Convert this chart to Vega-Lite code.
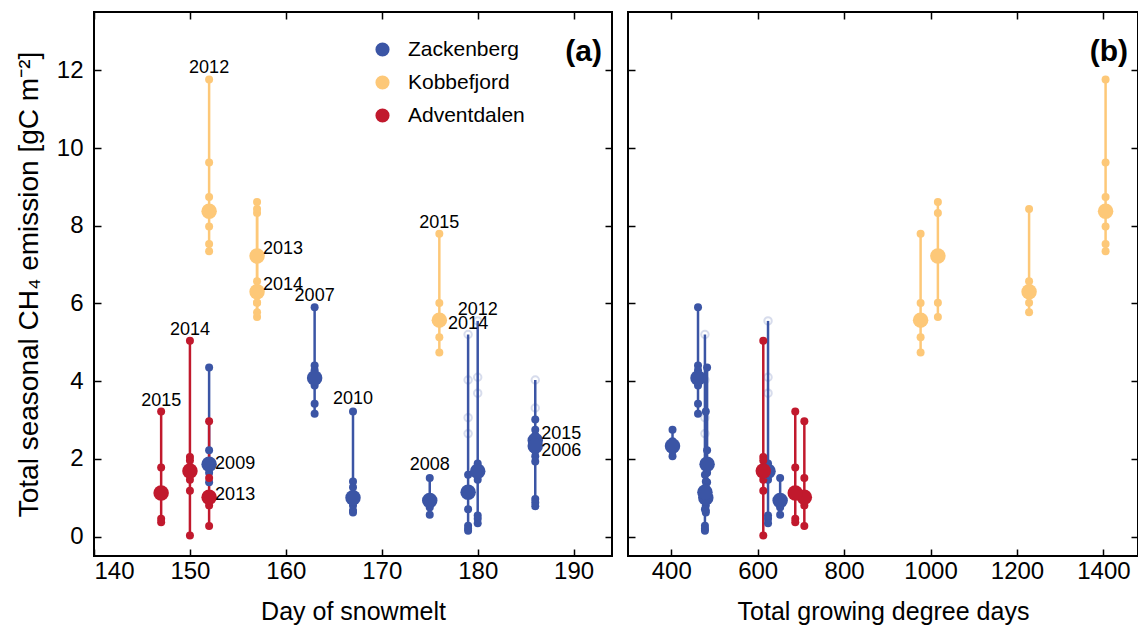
{
  "$schema": "https://vega.github.io/schema/vega-lite/v6.json",
  "padding": {"left": 14, "top": 10, "right": 0, "bottom": 0},
  "background": "white",
  "spacing": 12,
  "config": {
    "font": "Liberation Sans",
    "view": {"stroke": "black", "strokeWidth": 2},
    "axis": {"domain": false, "grid": false, "ticks": false, "tickColor": "black", "tickWidth": 1.5, "tickSize": -7, "labelFontSize": 24, "labelColor": "black", "titleFontSize": 25, "titleFontWeight": "normal", "titleColor": "black", "labelPadding": 3, "titlePadding": 16},
    "axisY": {"labelPadding": 11, "titleFontSize": 28, "titlePadding": 13},
    "legend": {"labelFontSize": 21, "labelColor": "black", "symbolSize": 200, "symbolType": "circle", "rowPadding": 11, "padding": 0, "labelOffset": 15, "symbolStrokeWidth": 0}
  },
  "datasets": {
    "pts": [
      {"site": "Zackenberg", "year": 2006, "day": 186, "gdd": null, "value": 4.03, "kind": "plot", "faint": true},
      {"site": "Zackenberg", "year": 2006, "day": 186, "gdd": null, "value": 3.31, "kind": "plot", "faint": true},
      {"site": "Zackenberg", "year": 2006, "day": 186, "gdd": null, "value": 3.01, "kind": "plot", "faint": false},
      {"site": "Zackenberg", "year": 2006, "day": 186, "gdd": null, "value": 2.6, "kind": "plot", "faint": false},
      {"site": "Zackenberg", "year": 2006, "day": 186, "gdd": null, "value": 1.93, "kind": "plot", "faint": false},
      {"site": "Zackenberg", "year": 2006, "day": 186, "gdd": null, "value": 0.97, "kind": "plot", "faint": false},
      {"site": "Zackenberg", "year": 2006, "day": 186, "gdd": null, "value": 0.88, "kind": "plot", "faint": false},
      {"site": "Zackenberg", "year": 2006, "day": 186, "gdd": null, "value": 0.78, "kind": "plot", "faint": false},
      {"site": "Zackenberg", "year": 2006, "day": 186, "gdd": null, "value": 2.47, "kind": "mean", "faint": false},
      {"site": "Zackenberg", "year": 2007, "day": 163, "gdd": 462, "value": 5.9, "kind": "plot", "faint": false},
      {"site": "Zackenberg", "year": 2007, "day": 163, "gdd": 462, "value": 4.4, "kind": "plot", "faint": false},
      {"site": "Zackenberg", "year": 2007, "day": 163, "gdd": 462, "value": 4.28, "kind": "plot", "faint": false},
      {"site": "Zackenberg", "year": 2007, "day": 163, "gdd": 462, "value": 3.89, "kind": "plot", "faint": false},
      {"site": "Zackenberg", "year": 2007, "day": 163, "gdd": 462, "value": 3.42, "kind": "plot", "faint": false},
      {"site": "Zackenberg", "year": 2007, "day": 163, "gdd": 462, "value": 3.16, "kind": "plot", "faint": false},
      {"site": "Zackenberg", "year": 2007, "day": 163, "gdd": 462, "value": 4.08, "kind": "mean", "faint": false},
      {"site": "Zackenberg", "year": 2008, "day": 175, "gdd": 652, "value": 1.51, "kind": "plot", "faint": false},
      {"site": "Zackenberg", "year": 2008, "day": 175, "gdd": 652, "value": 1.01, "kind": "plot", "faint": false},
      {"site": "Zackenberg", "year": 2008, "day": 175, "gdd": 652, "value": 0.75, "kind": "plot", "faint": false},
      {"site": "Zackenberg", "year": 2008, "day": 175, "gdd": 652, "value": 0.56, "kind": "plot", "faint": false},
      {"site": "Zackenberg", "year": 2008, "day": 175, "gdd": 652, "value": 0.93, "kind": "mean", "faint": false},
      {"site": "Zackenberg", "year": 2009, "day": 152, "gdd": 483, "value": 4.35, "kind": "plot", "faint": false},
      {"site": "Zackenberg", "year": 2009, "day": 152, "gdd": 483, "value": 2.22, "kind": "plot", "faint": false},
      {"site": "Zackenberg", "year": 2009, "day": 152, "gdd": 483, "value": 1.64, "kind": "plot", "faint": false},
      {"site": "Zackenberg", "year": 2009, "day": 152, "gdd": 483, "value": 1.4, "kind": "plot", "faint": false},
      {"site": "Zackenberg", "year": 2009, "day": 152, "gdd": 483, "value": 1.86, "kind": "mean", "faint": false},
      {"site": "Zackenberg", "year": 2010, "day": 167, "gdd": 480, "value": 3.22, "kind": "plot", "faint": false},
      {"site": "Zackenberg", "year": 2010, "day": 167, "gdd": 480, "value": 1.42, "kind": "plot", "faint": false},
      {"site": "Zackenberg", "year": 2010, "day": 167, "gdd": 480, "value": 1.27, "kind": "plot", "faint": false},
      {"site": "Zackenberg", "year": 2010, "day": 167, "gdd": 480, "value": 0.8, "kind": "plot", "faint": false},
      {"site": "Zackenberg", "year": 2010, "day": 167, "gdd": 480, "value": 0.67, "kind": "plot", "faint": false},
      {"site": "Zackenberg", "year": 2010, "day": 167, "gdd": 480, "value": 0.62, "kind": "plot", "faint": false},
      {"site": "Zackenberg", "year": 2010, "day": 167, "gdd": 480, "value": 1.0, "kind": "mean", "faint": false},
      {"site": "Zackenberg", "year": 2012, "day": 180, "gdd": 624, "value": 5.55, "kind": "plot", "faint": true},
      {"site": "Zackenberg", "year": 2012, "day": 180, "gdd": 624, "value": 4.1, "kind": "plot", "faint": true},
      {"site": "Zackenberg", "year": 2012, "day": 180, "gdd": 624, "value": 3.69, "kind": "plot", "faint": true},
      {"site": "Zackenberg", "year": 2012, "day": 180, "gdd": 624, "value": 1.88, "kind": "plot", "faint": false},
      {"site": "Zackenberg", "year": 2012, "day": 180, "gdd": 624, "value": 1.46, "kind": "plot", "faint": false},
      {"site": "Zackenberg", "year": 2012, "day": 180, "gdd": 624, "value": 0.54, "kind": "plot", "faint": false},
      {"site": "Zackenberg", "year": 2012, "day": 180, "gdd": 624, "value": 0.46, "kind": "plot", "faint": false},
      {"site": "Zackenberg", "year": 2012, "day": 180, "gdd": 624, "value": 0.34, "kind": "plot", "faint": false},
      {"site": "Zackenberg", "year": 2012, "day": 180, "gdd": 624, "value": 1.68, "kind": "mean", "faint": false},
      {"site": "Zackenberg", "year": 2014, "day": 179, "gdd": 478, "value": 5.2, "kind": "plot", "faint": true},
      {"site": "Zackenberg", "year": 2014, "day": 179, "gdd": 478, "value": 4.03, "kind": "plot", "faint": true},
      {"site": "Zackenberg", "year": 2014, "day": 179, "gdd": 478, "value": 3.06, "kind": "plot", "faint": true},
      {"site": "Zackenberg", "year": 2014, "day": 179, "gdd": 478, "value": 2.65, "kind": "plot", "faint": true},
      {"site": "Zackenberg", "year": 2014, "day": 179, "gdd": 478, "value": 1.59, "kind": "plot", "faint": false},
      {"site": "Zackenberg", "year": 2014, "day": 179, "gdd": 478, "value": 0.7, "kind": "plot", "faint": false},
      {"site": "Zackenberg", "year": 2014, "day": 179, "gdd": 478, "value": 0.28, "kind": "plot", "faint": false},
      {"site": "Zackenberg", "year": 2014, "day": 179, "gdd": 478, "value": 0.2, "kind": "plot", "faint": false},
      {"site": "Zackenberg", "year": 2014, "day": 179, "gdd": 478, "value": 0.15, "kind": "plot", "faint": false},
      {"site": "Zackenberg", "year": 2014, "day": 179, "gdd": 478, "value": 1.14, "kind": "mean", "faint": false},
      {"site": "Zackenberg", "year": 2015, "day": 186, "gdd": 403, "value": 2.75, "kind": "plot", "faint": false},
      {"site": "Zackenberg", "year": 2015, "day": 186, "gdd": 403, "value": 2.45, "kind": "plot", "faint": false},
      {"site": "Zackenberg", "year": 2015, "day": 186, "gdd": 403, "value": 2.2, "kind": "plot", "faint": false},
      {"site": "Zackenberg", "year": 2015, "day": 186, "gdd": 403, "value": 2.07, "kind": "plot", "faint": false},
      {"site": "Zackenberg", "year": 2015, "day": 186, "gdd": 403, "value": 2.33, "kind": "mean", "faint": false},
      {"site": "Kobbefjord", "year": 2012, "day": 152, "gdd": 1405, "value": 11.76, "kind": "plot", "faint": false},
      {"site": "Kobbefjord", "year": 2012, "day": 152, "gdd": 1405, "value": 9.63, "kind": "plot", "faint": false},
      {"site": "Kobbefjord", "year": 2012, "day": 152, "gdd": 1405, "value": 8.74, "kind": "plot", "faint": false},
      {"site": "Kobbefjord", "year": 2012, "day": 152, "gdd": 1405, "value": 7.98, "kind": "plot", "faint": false},
      {"site": "Kobbefjord", "year": 2012, "day": 152, "gdd": 1405, "value": 7.53, "kind": "plot", "faint": false},
      {"site": "Kobbefjord", "year": 2012, "day": 152, "gdd": 1405, "value": 7.34, "kind": "plot", "faint": false},
      {"site": "Kobbefjord", "year": 2012, "day": 152, "gdd": 1405, "value": 8.37, "kind": "mean", "faint": false},
      {"site": "Kobbefjord", "year": 2013, "day": 157, "gdd": 1017, "value": 8.61, "kind": "plot", "faint": false},
      {"site": "Kobbefjord", "year": 2013, "day": 157, "gdd": 1017, "value": 8.33, "kind": "plot", "faint": false},
      {"site": "Kobbefjord", "year": 2013, "day": 157, "gdd": 1017, "value": 6.02, "kind": "plot", "faint": false},
      {"site": "Kobbefjord", "year": 2013, "day": 157, "gdd": 1017, "value": 5.65, "kind": "plot", "faint": false},
      {"site": "Kobbefjord", "year": 2013, "day": 157, "gdd": 1017, "value": 7.22, "kind": "mean", "faint": false},
      {"site": "Kobbefjord", "year": 2014, "day": 157, "gdd": 1228, "value": 8.43, "kind": "plot", "faint": false},
      {"site": "Kobbefjord", "year": 2014, "day": 157, "gdd": 1228, "value": 6.57, "kind": "plot", "faint": false},
      {"site": "Kobbefjord", "year": 2014, "day": 157, "gdd": 1228, "value": 6.02, "kind": "plot", "faint": false},
      {"site": "Kobbefjord", "year": 2014, "day": 157, "gdd": 1228, "value": 5.77, "kind": "plot", "faint": false},
      {"site": "Kobbefjord", "year": 2014, "day": 157, "gdd": 1228, "value": 6.3, "kind": "mean", "faint": false},
      {"site": "Kobbefjord", "year": 2015, "day": 176, "gdd": 977, "value": 7.79, "kind": "plot", "faint": false},
      {"site": "Kobbefjord", "year": 2015, "day": 176, "gdd": 977, "value": 6.01, "kind": "plot", "faint": false},
      {"site": "Kobbefjord", "year": 2015, "day": 176, "gdd": 977, "value": 5.13, "kind": "plot", "faint": false},
      {"site": "Kobbefjord", "year": 2015, "day": 176, "gdd": 977, "value": 4.74, "kind": "plot", "faint": false},
      {"site": "Kobbefjord", "year": 2015, "day": 176, "gdd": 977, "value": 5.57, "kind": "mean", "faint": false},
      {"site": "Adventdalen", "year": 2013, "day": 152, "gdd": 708, "value": 2.97, "kind": "plot", "faint": false},
      {"site": "Adventdalen", "year": 2013, "day": 152, "gdd": 708, "value": 1.51, "kind": "plot", "faint": false},
      {"site": "Adventdalen", "year": 2013, "day": 152, "gdd": 708, "value": 0.8, "kind": "plot", "faint": false},
      {"site": "Adventdalen", "year": 2013, "day": 152, "gdd": 708, "value": 0.27, "kind": "plot", "faint": false},
      {"site": "Adventdalen", "year": 2013, "day": 152, "gdd": 708, "value": 1.01, "kind": "mean", "faint": false},
      {"site": "Adventdalen", "year": 2014, "day": 150, "gdd": 613, "value": 5.04, "kind": "plot", "faint": false},
      {"site": "Adventdalen", "year": 2014, "day": 150, "gdd": 613, "value": 2.05, "kind": "plot", "faint": false},
      {"site": "Adventdalen", "year": 2014, "day": 150, "gdd": 613, "value": 1.96, "kind": "plot", "faint": false},
      {"site": "Adventdalen", "year": 2014, "day": 150, "gdd": 613, "value": 1.46, "kind": "plot", "faint": false},
      {"site": "Adventdalen", "year": 2014, "day": 150, "gdd": 613, "value": 1.18, "kind": "plot", "faint": false},
      {"site": "Adventdalen", "year": 2014, "day": 150, "gdd": 613, "value": 0.03, "kind": "plot", "faint": false},
      {"site": "Adventdalen", "year": 2014, "day": 150, "gdd": 613, "value": 1.69, "kind": "mean", "faint": false},
      {"site": "Adventdalen", "year": 2015, "day": 147, "gdd": 687, "value": 3.22, "kind": "plot", "faint": false},
      {"site": "Adventdalen", "year": 2015, "day": 147, "gdd": 687, "value": 1.78, "kind": "plot", "faint": false},
      {"site": "Adventdalen", "year": 2015, "day": 147, "gdd": 687, "value": 0.46, "kind": "plot", "faint": false},
      {"site": "Adventdalen", "year": 2015, "day": 147, "gdd": 687, "value": 0.37, "kind": "plot", "faint": false},
      {"site": "Adventdalen", "year": 2015, "day": 147, "gdd": 687, "value": 1.12, "kind": "mean", "faint": false}
    ],
    "labels": [
      {"site": "Kobbefjord", "year": 2012, "day": 152, "value": 12.05, "pos": "top"},
      {"site": "Kobbefjord", "year": 2015, "day": 176, "value": 8.08, "pos": "top"},
      {"site": "Zackenberg", "year": 2007, "day": 163, "value": 6.2, "pos": "top"},
      {"site": "Zackenberg", "year": 2010, "day": 167, "value": 3.53, "pos": "top"},
      {"site": "Zackenberg", "year": 2008, "day": 175, "value": 1.83, "pos": "top"},
      {"site": "Zackenberg", "year": 2012, "day": 180, "value": 5.82, "pos": "top"},
      {"site": "Zackenberg", "year": 2014, "day": 179, "value": 5.48, "pos": "top"},
      {"site": "Adventdalen", "year": 2014, "day": 150, "value": 5.32, "pos": "top"},
      {"site": "Adventdalen", "year": 2015, "day": 147, "value": 3.5, "pos": "top"},
      {"site": "Kobbefjord", "year": 2013, "day": 157, "value": 7.4, "pos": "side"},
      {"site": "Kobbefjord", "year": 2014, "day": 157, "value": 6.48, "pos": "side"},
      {"site": "Zackenberg", "year": 2009, "day": 152, "value": 1.87, "pos": "side"},
      {"site": "Adventdalen", "year": 2013, "day": 152, "value": 1.06, "pos": "side"},
      {"site": "Zackenberg", "year": 2015, "day": 186, "value": 2.65, "pos": "side"},
      {"site": "Zackenberg", "year": 2006, "day": 186, "value": 2.19, "pos": "side"}
    ]
  },
  "hconcat": [
    {
      "width": 518,
      "height": 544,
      "title": {"text": "(a)", "orient": "top", "anchor": "end", "frame": "group", "offset": -56, "dx": -10, "fontSize": 30, "fontWeight": "bold", "color": "black"},
      "layer": [
        {
          "encoding": {
            "x": {"field": "day", "type": "quantitative", "title": "Day of snowmelt", "scale": {"domain": [140, 194], "nice": false, "zero": false}, "axis": {"values": [140, 150, 160, 170, 180, 190]}}
          },
          "layer": [
            {
              "data": {"name": "pts"},
              "mark": {"type": "rule", "strokeWidth": 2.5},
              "encoding": {
                "y": {"aggregate": "min", "field": "value", "type": "quantitative", "title": "Total seasonal CH₄ emission [gC m⁻²]", "scale": {"domain": [-0.5, 13.5], "nice": false, "zero": false}, "axis": {"values": [0, 2, 4, 6, 8, 10, 12]}},
                "y2": {"aggregate": "max", "field": "value"},
                "detail": {"field": "year", "type": "nominal"},
                "stroke": {"field": "site", "type": "nominal", "scale": {"domain": ["Adventdalen", "Kobbefjord", "Zackenberg"], "range": ["#c1192d", "#fdc878", "#3b55a5"]}, "legend": null}
              }
            },
            {
              "data": {"name": "pts"},
              "transform": [{"filter": "datum.faint"}],
              "mark": {"type": "point", "filled": false, "shape": "circle", "size": 55, "strokeWidth": 2, "color": "#3b55a5", "opacity": 0.2},
              "encoding": {
                "y": {"field": "value", "type": "quantitative", "title": "Total seasonal CH₄ emission [gC m⁻²]"}
              }
            },
            {
              "data": {"name": "pts"},
              "transform": [{"filter": "!datum.faint && datum.kind == 'plot'"}],
              "mark": {"type": "circle", "size": 64, "opacity": 1},
              "encoding": {
                "y": {"field": "value", "type": "quantitative", "title": "Total seasonal CH₄ emission [gC m⁻²]"},
                "color": {"field": "site", "type": "nominal", "scale": {"domain": ["Zackenberg", "Kobbefjord", "Adventdalen"], "range": ["#3b55a5", "#fdc878", "#c1192d"]}, "legend": {"orient": "none", "legendX": 278, "legendY": 27, "title": null}}
              }
            },
            {
              "data": {"name": "pts"},
              "transform": [{"filter": "datum.kind == 'mean'"}],
              "mark": {"type": "circle", "size": 240, "opacity": 1},
              "encoding": {
                "y": {"field": "value", "type": "quantitative", "title": "Total seasonal CH₄ emission [gC m⁻²]"},
                "color": {"field": "site", "type": "nominal", "legend": {"orient": "none", "legendX": 278, "legendY": 27, "title": null}}
              }
            },
            {
              "data": {"name": "labels"},
              "transform": [{"filter": "datum.pos == 'top'"}],
              "mark": {"type": "text", "fontSize": 18, "align": "center", "baseline": "middle", "color": "black"},
              "encoding": {
                "y": {"field": "value", "type": "quantitative", "title": "Total seasonal CH₄ emission [gC m⁻²]"},
                "text": {"field": "year", "type": "nominal"}
              }
            },
            {
              "data": {"name": "labels"},
              "transform": [{"filter": "datum.pos == 'side'"}],
              "mark": {"type": "text", "fontSize": 18, "align": "left", "baseline": "middle", "dx": 6, "color": "black"},
              "encoding": {
                "y": {"field": "value", "type": "quantitative", "title": "Total seasonal CH₄ emission [gC m⁻²]"},
                "text": {"field": "year", "type": "nominal"}
              }
            }
          ]
        },
        {
          "data": {"name": "pts"},
          "mark": {"type": "point", "opacity": 0},
          "encoding": {
            "x": {"field": "day", "type": "quantitative", "scale": {"domain": [140, 194], "nice": false, "zero": false}, "axis": {"orient": "top", "labels": false, "ticks": true, "title": null, "values": [140, 150, 160, 170, 180, 190]}},
            "y": {"field": "value", "type": "quantitative", "scale": {"domain": [-0.5, 13.5], "nice": false, "zero": false}, "axis": {"orient": "right", "labels": false, "ticks": true, "title": null, "values": [0, 2, 4, 6, 8, 10, 12]}}
          }
        },
        {
          "data": {"name": "pts"},
          "mark": {"type": "point", "opacity": 0},
          "encoding": {
            "x": {"field": "day", "type": "quantitative", "scale": {"domain": [140, 194], "nice": false, "zero": false}, "axis": {"orient": "bottom", "labels": false, "ticks": true, "title": null, "values": [140, 150, 160, 170, 180, 190]}},
            "y": {"field": "value", "type": "quantitative", "scale": {"domain": [-0.5, 13.5], "nice": false, "zero": false}, "axis": {"orient": "left", "labels": false, "ticks": true, "title": null, "values": [0, 2, 4, 6, 8, 10, 12]}}
          }
        }
      ],
      "resolve": {"scale": {"x": "independent", "y": "independent"}}
    },
    {
      "width": 510,
      "height": 544,
      "title": {"text": "(b)", "orient": "top", "anchor": "end", "frame": "group", "offset": -56, "dx": -10, "fontSize": 30, "fontWeight": "bold", "color": "black"},
      "layer": [
        {
          "data": {"name": "pts"},
          "transform": [{"filter": "isValid(datum.gdd)"}],
          "encoding": {
            "x": {"field": "gdd", "type": "quantitative", "title": "Total growing degree days", "scale": {"domain": [300, 1480], "nice": false, "zero": false}, "axis": {"values": [400, 600, 800, 1000, 1200, 1400], "format": "d"}}
          },
          "layer": [
            {
              "mark": {"type": "rule", "strokeWidth": 2.5},
              "encoding": {
                "y": {"aggregate": "min", "field": "value", "type": "quantitative", "title": null, "scale": {"domain": [-0.5, 13.5], "nice": false, "zero": false}, "axis": {"values": [0, 2, 4, 6, 8, 10, 12], "labels": false}},
                "y2": {"aggregate": "max", "field": "value"},
                "detail": {"field": "year", "type": "nominal"},
                "stroke": {"field": "site", "type": "nominal", "legend": null}
              }
            },
            {
              "transform": [{"filter": "datum.faint"}],
              "mark": {"type": "point", "filled": false, "shape": "circle", "size": 55, "strokeWidth": 2, "color": "#3b55a5", "opacity": 0.2},
              "encoding": {"y": {"field": "value", "type": "quantitative", "title": null}}
            },
            {
              "transform": [{"filter": "!datum.faint && datum.kind == 'plot'"}],
              "mark": {"type": "circle", "size": 64, "opacity": 1},
              "encoding": {
                "y": {"field": "value", "type": "quantitative", "title": null},
                "color": {"field": "site", "type": "nominal", "legend": {"orient": "none", "legendX": 278, "legendY": 27, "title": null}}
              }
            },
            {
              "transform": [{"filter": "datum.kind == 'mean'"}],
              "mark": {"type": "circle", "size": 240, "opacity": 1},
              "encoding": {
                "y": {"field": "value", "type": "quantitative", "title": null},
                "color": {"field": "site", "type": "nominal", "legend": {"orient": "none", "legendX": 278, "legendY": 27, "title": null}}
              }
            }
          ]
        },
        {
          "data": {"name": "pts"},
          "mark": {"type": "point", "opacity": 0},
          "encoding": {
            "x": {"field": "gdd", "type": "quantitative", "scale": {"domain": [300, 1480], "nice": false, "zero": false}, "axis": {"orient": "top", "labels": false, "ticks": true, "title": null, "values": [400, 600, 800, 1000, 1200, 1400]}},
            "y": {"field": "value", "type": "quantitative", "scale": {"domain": [-0.5, 13.5], "nice": false, "zero": false}, "axis": {"orient": "right", "labels": false, "ticks": true, "title": null, "values": [0, 2, 4, 6, 8, 10, 12]}}
          }
        },
        {
          "data": {"name": "pts"},
          "mark": {"type": "point", "opacity": 0},
          "encoding": {
            "x": {"field": "gdd", "type": "quantitative", "scale": {"domain": [300, 1480], "nice": false, "zero": false}, "axis": {"orient": "bottom", "labels": false, "ticks": true, "title": null, "values": [400, 600, 800, 1000, 1200, 1400]}},
            "y": {"field": "value", "type": "quantitative", "scale": {"domain": [-0.5, 13.5], "nice": false, "zero": false}, "axis": {"orient": "left", "labels": false, "ticks": true, "title": null, "values": [0, 2, 4, 6, 8, 10, 12]}}
          }
        }
      ],
      "resolve": {"scale": {"x": "independent", "y": "independent"}}
    }
  ]
}
